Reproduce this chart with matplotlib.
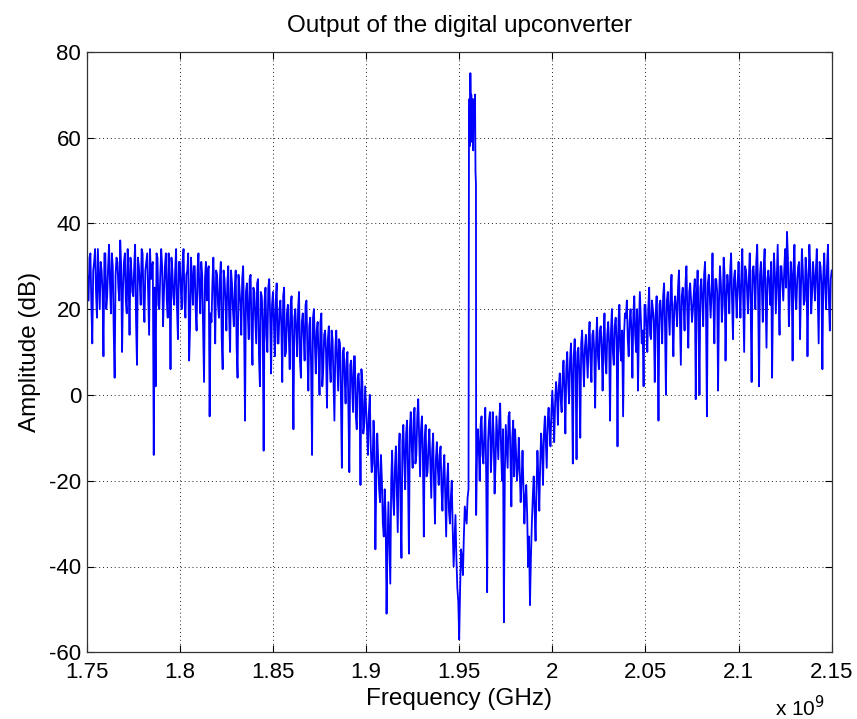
import numpy as np
import matplotlib
matplotlib.use("Agg")
import matplotlib.pyplot as plt

plt.rcParams['font.family'] = ['Liberation Sans', 'DejaVu Sans']

# ---- data: amplitude (dB) ----
# values on whole MHz, starting at 1750 MHz
start_mhz = 1750
amp_1750 = [30, 22, 33, 12, 31, 24, 34, 20, 29, 9,
            33, 23, 35, 19, 30, 4, 32, 25, 36, 10,
            31, 22, 34, 14, 29, 23, 35, 7, 30, 21,
            33, 17, 31, 24, 34, 30, -14, 2, 32, 20,
            34, 16, 30, 22, 33, 6, 29, 21, 34, 13]
amp_1800 = [31, 20, 34, 18, 29, 8, 32, 21, 30, 15,
            33, 19, 28, 3, 31, 29, -5, 17, 32, 12,
            28, 18, 31, 6, 27, 15, 30, 10, 26, 16,
            29, 4, 25, 14, 30, -6, 26, 13, 28, 7,
            24, 12, 27, 2, 23, -13, 25, 10, 27, 5]
amp_1850 = [24, 9, 26, 12, 22, 3, 25, 10, 21, 6,
            23, -8, 20, 9, 24, 4, 19, 8, 22, 1,
            18, -14, 20, 5, 17, 0, 19, 6, 15, -3,
            16, 3, 13, -6, 15, 1, 12, -17, 11, -2,
            10, -18, 8, -4, 9, -8, 5, -21, 3, -7]
amp_1900 = [-3, -14, 0, -18, -6, -36, -9, -22, -14, -30,
            -22, -51, -25, -44, -13, -28, -12, -32, -9, -38,
            -7, -22, -6, -37, -4, -17, -3, -14, -1, -19,
            -5, -33, -7, -18, -8, -24, -9, -30, -11, -21,
            -12, -27, -14, -33, -16, -30, -20, -40, -28, -45]
amp_1950 = [-57, -36, -42, -26, -30, -22, 75, 63, 68, 49,
            -8, -20, -5, -16, -3, -46, -6, -18, -4, -23,
            -5, -15, -2, -20, -53, -7, -17, -4, -26, -6,
            -8, -20, -10, -25, -13, -30, -21, -40, -49, -30,
            -19, -34, -13, -27, -9, -21, -5, -17, -3, -12]
amp_2000 = [1, -11, 3, -7, 5, -4, 8, -9, 10, -2,
            12, -16, 13, -15, 11, -10, 15, 2, 14, 4,
            17, 3, 15, -3, 18, 6, 16, 1, 19, 5,
            17, -6, 20, 7, 18, -12, 21, 8, -5, 19,
            22, 9, 20, 4, 23, 10, 1, 24, 12, 2]
amp_2050 = [21, 10, 25, 13, 20, 3, 23, -6, 22, 12,
            26, 0, 24, 14, 28, 9, 23, 16, 29, 7,
            25, 15, 30, 11, 26, 17, 24, -1, 29, 0,
            27, 16, 31, -5, 28, 18, 33, 12, 27, 1,
            30, 17, 32, 8, 28, 19, 33, 13, 29, 18]
amp_2100 = [31, 18, 34, 10, 29, 19, 33, 3, 30, 20,
            35, 2, 31, 17, 34, 11, 29, 21, 4, 33,
            19, 35, 14, 30, 22, 34, 38, 16, 31, 8,
            35, 20, 30, 13, 34, 21, 32, 9, 35, 19,
            31, 22, 34, 12, 30, 6, 33, 20, 35, 15, 29]

# values on half MHz (1750.5, 1751.5, ...)
half_1750 = [26, 32, 21, 29, 34, 18, 27, 31, 24, 33,
             20, 30, 26, 33, 15, 28, 31, 22, 30, 25,
             33, 19, 27, 32, 24, 30, 17, 32, 26, 34,
             22, 29, 33, 14, 27, 31, 25, 33, 21, 28,
             30, 24, 33, 18, 26, 32, 23, 29, 20, 31]
half_1800 = [25, 31, 22, 28, 33, 16, 27, 30, 20, 29,
             24, 31, 15, 27, 22, 30, 19, 26, 23, 29,
             21, 27, 13, 29, 22, 26, 18, 29, 20, 25,
             11, 28, 21, 27, 17, 24, 19, 27, 15, 25,
             18, 26, 9, 24, 17, 22, 14, 25, 18, 21]
half_1850 = [17, 22, 12, 20, 16, 23, 9, 19, 14, 21,
             12, 18, 15, 20, 8, 17, 14, 21, 10, 16,
             6, 18, 12, 15, 9, 17, 2, 14, 10, 13,
             7, 15, 4, 11, 8, 13, -1, 10, 4, 8,
             -3, 7, 2, 9, -5, 4, 0, 6, -9, 2]
half_1900 = [-8, -4, -12, -16, -11, -19, -15, -25, -20, -33,
             -28, -35, -34, -20, -24, -17, -22, -14, -26, -11,
             -15, -9, -18, -8, -12, -6, -16, -5, -10, -8,
             -14, -10, -19, -12, -16, -13, -21, -15, -17, -14,
             -22, -18, -24, -20, -27, -24, -31, -34, -38, -48]
half_1950 = [-45, -38, -33, -28, -24, 69, 70, 57, 70, -15,
             -12, -7, -14, -9, -19, -11, -4, -13, -9, -16,
             -10, -6, -13, -8, -18, -12, -5, -14, -10, -19,
             -13, -17, -18, -20, -22, -24, -28, -33, -38, -24,
             -27, -22, -19, -16, -13, -9, -11, -6, -8, -4]
half_2000 = [-4, -2, 0, 2, -1, 4, 1, 6, 3, 8,
             4, 9, 6, 10, 5, 12, 8, 11, 9, 13,
             8, 14, 10, 12, 9, 15, 11, 13, 8, 14,
             12, 15, 10, 16, 13, 17, 11, 15, 14, 18,
             13, 17, 15, 19, 14, 20, 16, 18, 15, 21]
half_2050 = [16, 20, 14, 22, 17, 19, 15, 21, 18, 23,
             16, 22, 19, 24, 17, 21, 20, 25, 18, 23,
             21, 26, 19, 24, 22, 20, 27, 23, 19, 25,
             22, 28, 20, 26, 23, 24, 21, 27, 24, 22,
             26, 21, 28, 23, 25, 29, 22, 27, 24, 26]
half_2100 = [24, 28, 22, 30, 25, 27, 21, 29, 26, 31,
             23, 28, 25, 30, 22, 27, 26, 31, 24, 28,
             27, 23, 30, 26, 29, 25, 32, 24, 28, 30,
             23, 27, 31, 25, 29, 22, 28, 26, 30, 24,
             27, 29, 23, 31, 26, 28, 25, 30, 22, 27]

# carrier near 1.956 GHz: extra points between the grid
carrier_mhz = [1955.25, 1955.75, 1956.25, 1956.75, 1957.25,
               1957.75, 1958.25, 1958.75, 1959.1]
carrier_db = [62, 58, 66, 59, 69, 67, 63, 52, -28]

xtick_labels = ['1.75', '1.8', '1.85', '1.9', '1.95', '2', '2.05', '2.1', '2.15']
ytick_values = [-60, -40, -20, 0, 20, 40, 60, 80]

# ---- assemble ----
whole_amp = np.array(amp_1750 + amp_1800 + amp_1850 + amp_1900 +
                     amp_1950 + amp_2000 + amp_2050 + amp_2100, dtype=float)
whole_mhz = start_mhz + np.arange(len(whole_amp))
half_amp = np.array(half_1750 + half_1800 + half_1850 + half_1900 +
                    half_1950 + half_2000 + half_2050 + half_2100, dtype=float)
half_mhz = start_mhz + 0.5 + np.arange(len(half_amp))
all_mhz = np.concatenate([whole_mhz, half_mhz, carrier_mhz])
all_db = np.concatenate([whole_amp, half_amp, carrier_db])
order = np.argsort(all_mhz, kind='stable')
freq_hz = all_mhz[order] * 1e6
amp_db = all_db[order]

W, H = 857, 719
fig = plt.figure(figsize=(W / 100, H / 100), dpi=100)
ax = fig.add_axes([86.7 / W, 1 - 652.3 / H, (831.7 - 86.7) / W, (652.3 - 51.7) / H])

ax.plot(freq_hz, amp_db, color=(0, 0, 1), linewidth=1.3)

ax.set_xlim(1.75e9, 2.15e9)
ax.set_ylim(-60, 80)
xticks = [float(s) * 1e9 for s in xtick_labels]
ax.set_xticks(xticks)
ax.set_xticklabels(xtick_labels)
ax.set_yticks(ytick_values)
ax.set_yticklabels([str(v) for v in ytick_values])

ax.grid(True, linestyle=(0, (1, 3)), color='#222222', linewidth=0.7)
ax.tick_params(direction='in', length=5, width=0.8, top=True, right=True,
               labelsize=16, colors='black')
ax.tick_params(axis='x', pad=7)
ax.tick_params(axis='y', pad=4)
for s in ax.spines.values():
    s.set_linewidth(0.9)
    s.set_color('#333333')

ax.set_title('Output of the digital upconverter', fontsize=17.5, pad=14)
ax.set_xlabel('Frequency (GHz)', fontsize=17.5, labelpad=3.5)
ax.set_ylabel('Amplitude (dB)', fontsize=17.5, labelpad=6)

fig.text(775 / W, 1 - 716 / H, 'x 10$^{9}$', fontsize=15, ha='left', va='baseline')

fig.savefig('out.png', dpi=100)
